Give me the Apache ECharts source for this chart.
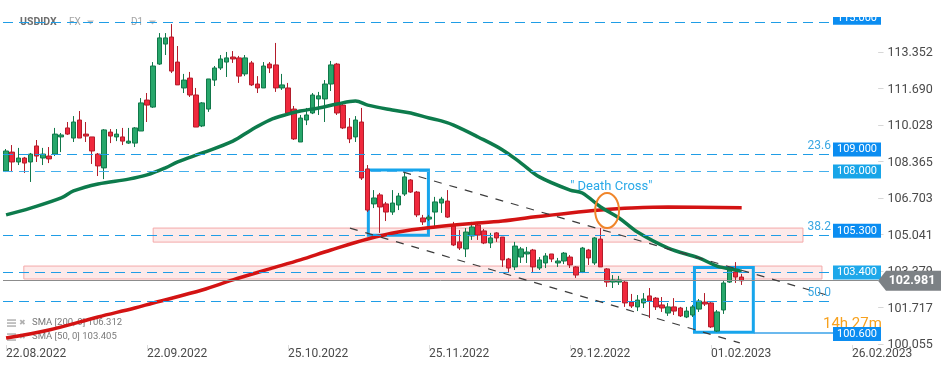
<!DOCTYPE html>
<html><head><meta charset="utf-8">
<script src="https://cdn.jsdelivr.net/npm/echarts@6/dist/echarts.min.js"></script>
<style>html,body{margin:0;padding:0;background:#fff}#c{width:949px;height:370px}</style>
</head><body><div id="c"></div>
<script>
// ---------- data ----------
const xTickIndex = [0, 23, 46, 69, 92, 115, 138];
const xTickLabels = ['22.08.2022', '22.09.2022', '25.10.2022', '25.11.2022', '29.12.2022', '01.02.2023', '26.02.2023'];
const yTickLabels = ['100.055', '101.717', '103.379', '105.041', '106.703', '108.365', '110.028', '111.690', '113.352'];
const categories = Array.from({ length: 153 }, (_, i) => String(i));
// [open, close, low, high]
const candles = [
  [107.98,108.89,107.93,108.98],[108.84,108.39,107.93,109.16],[108.39,108.57,108.25,109.03],[108.57,108.34,107.89,108.62],
  [108.39,108.75,107.48,108.80],[109.12,108.66,108.39,109.39],[108.57,108.75,108.25,109.03],[108.66,108.53,108.34,109.07],
  [108.75,109.66,108.66,109.94],[109.53,109.62,108.84,109.71],[109.94,109.66,109.62,110.21],[109.48,110.21,109.30,110.48],
  [110.30,109.48,109.48,110.71],[109.66,109.57,109.30,110.21],[109.53,108.89,108.30,109.53],[108.75,108.21,107.75,108.80],
  [108.12,109.85,107.61,109.89],[109.75,109.57,109.25,109.89],[109.53,109.66,109.34,109.89],[109.53,109.34,109.16,109.94],
  [109.25,109.34,109.21,109.94],[109.25,109.94,109.07,109.98],[109.80,111.08,109.80,111.30],[111.21,110.98,110.21,111.53],
  [110.89,112.76,110.85,112.94],[112.85,114.04,112.81,114.26],[113.76,114.04,113.26,114.26],[114.08,112.53,112.44,114.67],
  [112.94,111.90,111.90,113.67],[111.76,112.12,111.53,112.40],[112.21,111.44,111.35,112.49],[111.44,109.98,109.98,111.76],
  [110.03,111.08,109.98,111.12],[110.80,112.17,110.67,112.17],[112.12,112.67,111.85,112.76],[112.67,113.08,112.58,113.26],
  [112.94,113.13,112.26,113.40],[113.17,113.08,112.90,113.44],[113.13,112.30,111.99,113.22],[112.40,113.13,112.30,113.26],
  [112.90,111.90,111.85,112.99],[111.94,111.76,111.53,112.30],[111.76,112.76,111.76,112.94],[112.85,112.67,112.44,112.94],
  [112.81,111.76,111.58,113.81],[111.76,111.90,111.67,112.40],[111.76,110.62,110.57,111.99],[110.80,109.44,109.39,110.94],
  [109.30,110.39,109.30,110.53],[110.30,110.53,110.07,110.85],[110.62,111.44,110.57,111.53],[111.26,111.40,110.53,111.58],
  [111.26,111.94,110.21,112.12],[111.94,112.81,111.62,112.99],[112.85,110.62,110.53,112.90],[110.98,109.94,109.89,111.12],
  [109.98,109.44,109.25,110.39],[109.53,110.30,109.30,110.48],[110.21,107.66,107.57,110.85],[108.07,106.20,106.11,108.25],
  [106.48,106.75,106.29,107.11],[106.89,106.34,105.16,106.98],[106.48,106.11,105.70,106.57],[106.11,106.52,105.98,107.11],
  [106.43,106.84,106.20,106.98],[106.93,107.71,106.84,107.89],[107.57,107.02,106.98,107.61],[107.02,105.98,105.88,107.07],
  [105.84,105.66,105.52,105.98],[105.79,105.88,105.70,105.98],[106.11,106.57,105.38,106.80],[106.52,106.70,106.07,106.80],
  [106.61,105.88,105.84,107.11],[105.52,104.61,104.56,105.66],[104.75,104.47,104.38,105.29],[104.43,105.20,104.06,105.38],
  [105.02,105.43,104.84,105.66],[105.52,105.06,104.84,105.61],[105.25,104.70,104.65,105.34],[104.70,104.93,104.47,105.16],
  [105.16,104.93,104.75,105.20],[104.97,103.93,103.61,104.97],[103.97,103.56,103.38,104.02],[103.61,104.56,103.47,104.75],
  [104.06,104.43,103.79,104.52],[104.20,104.29,103.79,104.52],[104.38,103.61,103.38,104.43],[103.56,103.93,103.47,104.06],
  [103.79,104.11,103.56,104.24],[104.20,103.97,103.83,104.20],[103.79,103.88,103.61,104.02],[103.88,104.24,103.74,104.29],
  [104.06,103.70,103.56,104.15],[103.61,103.24,103.11,103.65],[103.38,104.47,103.33,104.52],[104.38,104.02,103.70,104.43],
  [103.79,104.93,103.70,104.97],[104.88,103.61,103.61,105.38],[103.52,102.92,102.70,103.56],[102.92,103.02,102.65,103.24],
  [102.92,103.02,102.79,103.20],[102.92,101.97,101.79,102.97],[102.01,101.83,101.74,102.38],[101.79,102.10,101.60,102.33],
  [101.97,102.15,101.74,102.42],[102.29,102.06,101.28,102.65],[102.19,101.79,101.65,102.24],[101.88,101.74,101.56,102.24],
  [101.51,101.79,101.38,101.97],[101.79,101.60,101.42,102.19],[101.74,101.38,101.33,101.79],[101.33,101.60,101.28,101.79],
  [101.42,101.79,101.33,101.88],[101.69,102.06,101.56,102.15],[102.01,101.92,101.83,102.42],[101.97,100.88,100.83,102.01],
  [100.69,101.56,100.65,101.65],[101.65,102.88,101.47,102.97],[102.92,103.47,102.88,103.56],[103.38,103.15,102.88,103.83],
  [103.15,102.98,102.79,103.29]
];
// moving averages: [bar index, value]
const sma50 = [[0,105.98],[4,106.29],[9,106.75],[11,107.07],[15,107.39],[20,107.61],[23,107.80],[26,108.12],[28,108.39],
  [32,108.80],[37,109.34],[40,109.85],[43,110.30],[46,110.57],[48,110.71],[51,110.85],[54,111.03],[57,111.17],[59,110.98],
  [63,110.76],[66,110.62],[69,110.39],[71,110.26],[73,110.07],[77,109.53],[81,108.94],[84,108.34],[87,107.71],[92,107.11],
  [94,106.98],[97,106.34],[100,105.84],[103,105.20],[108,104.47],[113,104.02],[116,103.65],[119,103.47],[120,103.405]];
const sma200 = [[0,100.37],[7,100.74],[15,101.33],[21,101.74],[24,101.97],[32,102.56],[37,103.02],[43,103.52],[48,103.93],
  [53,104.38],[59,104.88],[64,105.20],[70,105.43],[75,105.57],[81,105.70],[86,105.88],[92,106.07],[97,106.20],[102,106.29],
  [108,106.34],[120,106.31]];
const lastPrice = 102.981;
const sma200Last = '106.312';
const sma50Last = '103.405';
// horizontal levels: dashed line value, box label, fib tag
const levelLines = [114.741, 108.730, 107.956, 105.042, 103.357, 102.036];
const levelBoxes = ['115.000', '109.000', '108.000', '105.300', '103.400', '100.600'];
const fibTags = ['23.6', '38.2', '50.0'];
const fibLevelIdx = [1, 3, 5];
const supportValue = 100.60;
// zones [x0, y0, x1, y1] in bar index / price
const zones = [[24.0, 105.38, 130.0, 104.74], [2.9, 103.65, 133.1, 103.06]];
const boxes = [[59.1, 108.02, 68.9, 105.05], [112.3, 103.58, 121.9, 100.63]];
const channel = [[[64.8, 107.93], [134.4, 102.29]], [[56.1, 105.38], [119.7, 100.15]]];
const crossArea = [96.1, 106.98, 100.0, 105.38];

// ---------- chart ----------
const yMin = 100.055, yStep = 1.662125, yMax = 115.766;
const chart = echarts.init(document.getElementById('c'), null, { renderer: 'canvas' });
const FONT = 'Roboto, "Noto Sans", sans-serif';
const endLine = 134.9;

const option = {
  animation: false,
  backgroundColor: '#ffffff',
  grid: { left: 3, right: 8.11, top: 0, bottom: 25, containLabel: false, outerBoundsMode: 'none' },
  xAxis: [
    {
      type: 'category', data: categories, boundaryGap: true,
      axisLine: { show: false },
      axisTick: { show: true, alignWithLabel: true, length: 4, interval: (i) => xTickIndex.includes(i), lineStyle: { color: '#dddddd' } },
      axisLabel: {
        interval: (i) => xTickIndex.includes(i), align: 'left', margin: 3,
        color: '#4a4a4a', fontSize: 12, fontFamily: FONT,
        formatter: (v, i) => { const k = xTickIndex.indexOf(i); return k >= 0 ? xTickLabels[k] : ''; }
      },
      splitLine: { show: false }
    },
    { type: 'value', min: -0.5, max: 152.5, show: false }
  ],
  yAxis: {
    type: 'value', position: 'right', min: yMin, max: yMax, interval: yStep, scale: true,
    axisLine: { show: false }, axisTick: { show: false }, splitLine: { show: false },
    axisLabel: {
      inside: true, margin: 8, fontFamily: FONT,
      formatter: (v) => {
        const k = Math.round((v - yMin) / yStep);
        if (Math.abs(v - (yMin + k * yStep)) > 0.01 || k < 0 || k >= yTickLabels.length) return '';
        return '{d|–} {t|' + yTickLabels[k] + '}';
      },
      rich: { d: { color: '#d0d0d0', fontSize: 11 }, t: { color: '#4a4a4a', fontSize: 12.5, fontFamily: FONT } }
    }
  },
  series: [
    {
      type: 'candlestick', xAxisIndex: 0, data: candles, barWidth: 5, z: 2,
      itemStyle: { color: '#27a76b', color0: '#f0293d', borderColor: '#11784a', borderColor0: '#b31d2b', borderWidth: 1 }
    },
    {
      type: 'line', xAxisIndex: 1, data: sma200, smooth: 0.35, symbol: 'none', z: 3,
      lineStyle: { color: '#d31313', width: 3.5 }
    },
    {
      type: 'line', xAxisIndex: 1, data: sma50, smooth: 0.35, symbol: 'none', z: 3,
      lineStyle: { color: '#0d7b4c', width: 3.5 }
    },
    {
      type: 'line', xAxisIndex: 1, data: [], z: 4,
      markLine: {
        silent: true, symbol: 'none', label: { show: false },
        data: levelLines.map((v, k) => [
          { coord: [-0.5, v], lineStyle: { color: k === 2 ? '#45b0ec' : '#1f9de6', type: [10, 6], width: 1 } },
          { coord: [endLine, v] }
        ]).concat([
          [{ coord: [-0.5, lastPrice], lineStyle: { color: '#8c8c8c', type: 'solid', width: 1 } }, { coord: [142.3, lastPrice] }],
          [{ coord: [122.0, supportValue], lineStyle: { color: '#3aa2e8', type: 'solid', width: 1.5 } }, { coord: [endLine, supportValue] }]
        ]).concat(channel.map(seg => [
          { coord: seg[0], lineStyle: { color: '#3c3c3c', type: [8, 8], width: 1.2 } }, { coord: seg[1] }
        ]))
      }
    },
    {
      type: 'line', xAxisIndex: 1, data: [], z: 5,
      markArea: {
        silent: true,
        itemStyle: { color: 'rgba(250,200,200,0.38)', borderColor: '#f4a9a9', borderWidth: 1 },
        data: zones.map(z => [{ coord: [z[0], z[1]] }, { coord: [z[2], z[3]] }])
      }
    },
    {
      type: 'line', xAxisIndex: 1, data: [], z: 6,
      markArea: {
        silent: true,
        itemStyle: { color: 'rgba(0,0,0,0)', borderColor: '#17a5ec', borderWidth: 3 },
        data: boxes.map(b => [{ coord: [b[0], b[1]] }, { coord: [b[2], b[3]] }])
      }
    }
  ]
};
chart.setOption(option);

// ---------- annotations ----------
const px = (x, y) => chart.convertToPixel({ xAxisIndex: 1, yAxisIndex: 0 }, [x, y]);
const g = [];
// header
g.push({ type: 'text', left: 20, top: 17, style: { text: 'USDIDX', fill: '#6e6e6e', font: 'bold 10.5px ' + FONT } });
g.push({ type: 'text', left: 69, top: 17, style: { text: 'FX', fill: '#a5a5a5', font: '10px ' + FONT } });
g.push({ type: 'polygon', shape: { points: [[87, 20.5], [94, 20.5], [90.5, 24.5]] }, style: { fill: '#bdbdbd' } });
g.push({ type: 'text', left: 131, top: 17, style: { text: 'D1', fill: '#a5a5a5', font: '10px ' + FONT } });
g.push({ type: 'polygon', shape: { points: [[149, 20.5], [156, 20.5], [152.5, 24.5]] }, style: { fill: '#bdbdbd' } });
// legend
[[323, 'SMA [200, 0] ' + sma200Last], [337, 'SMA [50, 0] ' + sma50Last]].forEach(([y, t]) => {
  [-3, 0, 3].forEach(d => g.push({ type: 'rect', shape: { x: 7, y: y + d - 0.7, width: 9, height: 1.5 }, style: { fill: '#b0b0b0' } }));
  g.push({ type: 'text', x: 19, y: y, style: { text: '✖', fill: '#b0b0b0', font: '8px "DejaVu Sans"', verticalAlign: 'middle' } });
  g.push({ type: 'text', x: 32, y: y, style: { text: t, fill: '#7a7a7a', font: '9.5px ' + FONT, verticalAlign: 'middle' } });
});
// death cross
const [ex0, ey0] = px(crossArea[0], crossArea[1]);
const [ex1, ey1] = px(crossArea[2], crossArea[3]);
g.push({ type: 'ellipse', z: 20, shape: { cx: (ex0 + ex1) / 2, cy: (ey0 + ey1) / 2, rx: (ex1 - ex0) / 2, ry: (ey1 - ey0) / 2 },
  style: { fill: 'none', stroke: '#f0852a', lineWidth: 2 } });
g.push({ type: 'text', z: 20, x: ex0 - 25, y: ey0 - 6, style: { text: '" Death Cross"', fill: '#2aa9e8', font: '13px ' + FONT, verticalAlign: 'middle' } });
// fib tags
const boxLeft = px(endLine, yMin)[0];
fibTags.forEach((t, k) => {
  const y = px(0, levelLines[fibLevelIdx[k]])[1];
  g.push({ type: 'text', z: 20, x: boxLeft - 2, y: y - 8.5, style: { text: t, fill: '#3aa7e2', font: '12px ' + FONT, align: 'right', verticalAlign: 'middle' } });
});
// countdown text
g.push({ type: 'text', z: 20, x: boxLeft - 10, y: px(0, supportValue)[1] - 9, style: { text: '14h 27m', fill: '#f7a11e', font: '15px ' + FONT, verticalAlign: 'middle' } });
// level boxes
const boxColors = ['#0b8df1', '#0b8df1', '#18a5e8', '#0b8df1', '#1ea8ea', '#0b8df1'];
levelBoxes.forEach((t, k) => {
  const y = px(0, parseFloat(t))[1] + 1;
  g.push({ type: 'rect', z: 30, shape: { x: boxLeft, y: y - 7, width: 48, height: 14 }, style: { fill: boxColors[k] } });
  g.push({ type: 'text', z: 31, x: boxLeft + 24, y: y, style: { text: t, fill: '#ffffff', font: '11px ' + FONT, align: 'center', verticalAlign: 'middle' } });
});
// white overlay at top right
g.push({ type: 'rect', z: 32, shape: { x: 820, y: 0, width: 129, height: 17 }, style: { fill: '#ffffff' } });
// last price tag
const ly = px(0, lastPrice)[1];
g.push({ type: 'polygon', z: 30, shape: { points: [[878, ly], [886, ly - 10], [941, ly - 10], [941, ly + 10], [886, ly + 10]] }, style: { fill: '#7c8185' } });
g.push({ type: 'text', z: 31, x: 912, y: ly, style: { text: lastPrice.toFixed(3), fill: '#ffffff', font: 'bold 12.5px ' + FONT, align: 'center', verticalAlign: 'middle' } });
chart.setOption({ graphic: g });
</script></body></html>
